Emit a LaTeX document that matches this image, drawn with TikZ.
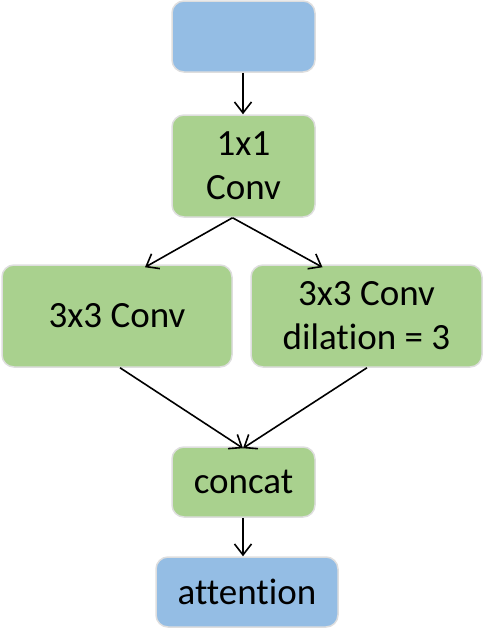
\documentclass[tikz,border=0pt]{standalone}
\usepackage{fontspec}
\setmainfont[Ligatures={NoCommon,NoRare,NoContextual}]{Carlito}
\usetikzlibrary{arrows.meta}
\definecolor{boxblue}{RGB}{148,189,228}
\definecolor{boxgreen}{RGB}{169,209,142}
\definecolor{boxedge}{RGB}{222,222,222}
\begin{document}
\begin{tikzpicture}[x=1pt,y=-1pt,
  box/.style={draw=boxedge, line width=1.5pt, rounded corners=12pt, inner sep=0pt,
    align=center, font=\fontsize{37}{44}\selectfont},
  bluebox/.style={box, fill=boxblue},
  greenbox/.style={box, fill=boxgreen},
  arr/.style={line width=1.6pt, -{Straight Barb[length=11pt,width=17pt,line width=1.6pt]}}]
\useasboundingbox (0,0) rectangle (483,630);
\node[bluebox, minimum width=143pt, minimum height=71pt] (in) at (243.5,36.5) {};
\node[greenbox, minimum width=143pt, minimum height=102pt] (c1) at (243.5,166) {1x1\\Conv};
\node[greenbox, minimum width=230pt, minimum height=102pt] (c3) at (117,316) {3x3 Conv};
\node[greenbox, minimum width=231pt, minimum height=102pt] (c3d) at (366.5,316) {3x3 Conv\\dilation = 3};
\node[greenbox, minimum width=143pt, minimum height=70pt] (cat) at (243.5,482) {concat};
\node[bluebox, minimum width=182pt, minimum height=70pt] (att) at (247,592) {attention};
\draw[arr] (in.south -| 243,0) -- (c1.north -| 243,0);
\draw[arr] ([xshift=-11pt]c1.south) -- ([xshift=28pt,yshift=-3pt]c3.north);
\draw[arr] ([xshift=-11pt]c1.south) -- ([xshift=-44pt,yshift=-3pt]c3d.north);
\draw[arr] ([xshift=3pt]c3.south) -- ([xshift=-0.5pt,yshift=-2pt]cat.north);
\draw[arr] ([xshift=0.5pt]c3d.south) -- ([xshift=-0.5pt,yshift=-2pt]cat.north);
\draw[arr] (cat.south -| 243,0) -- (att.north -| 243,0);
\end{tikzpicture}
\end{document}
